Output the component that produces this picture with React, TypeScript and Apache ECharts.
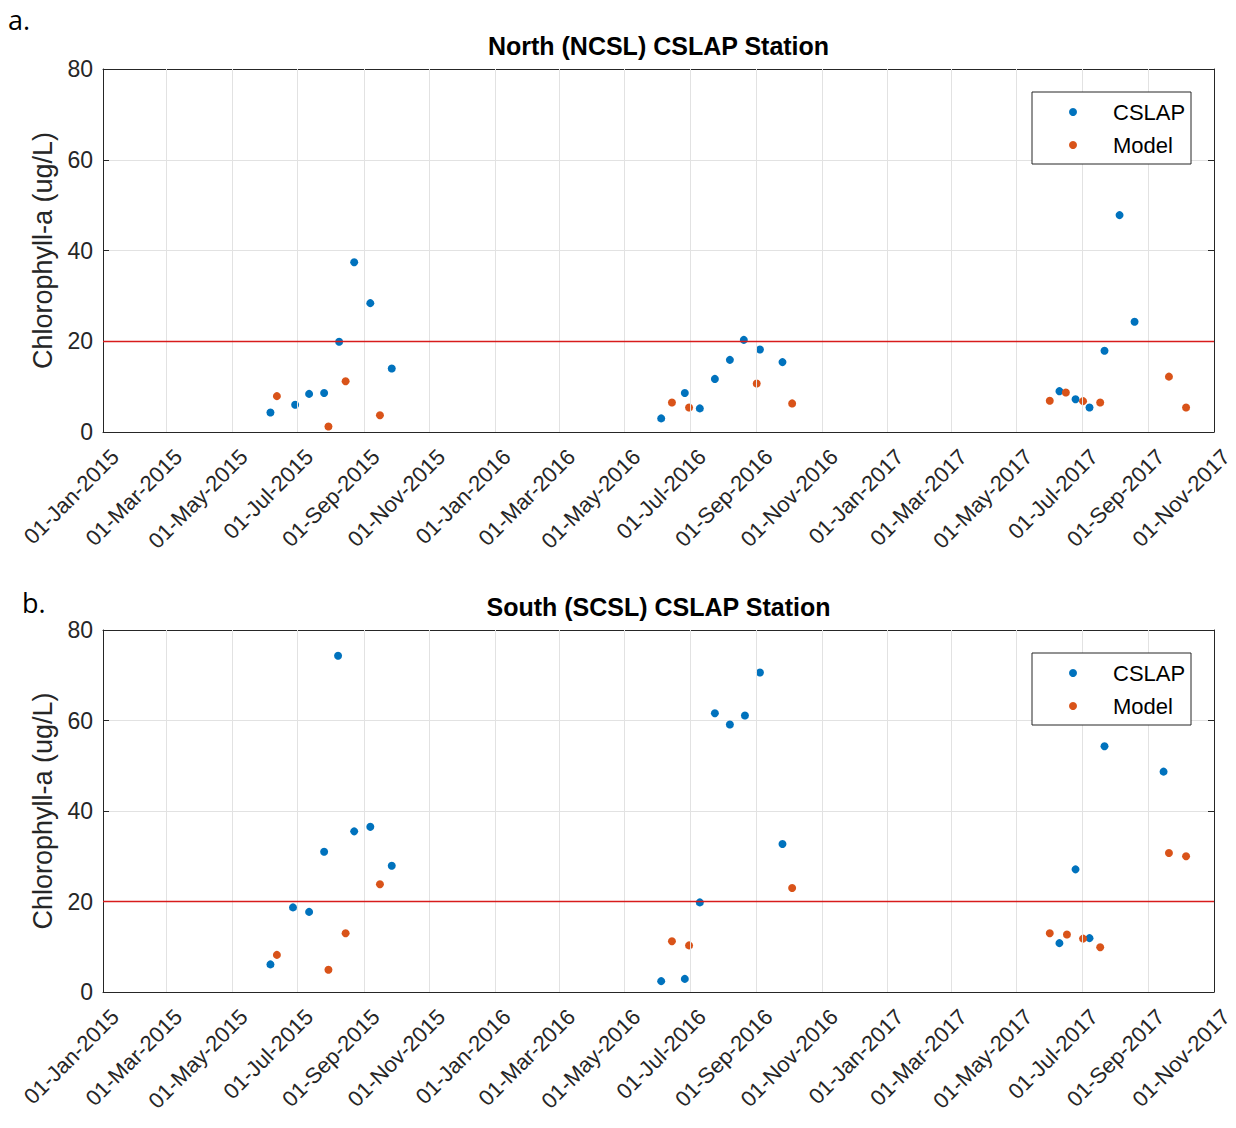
import React, { useEffect, useRef } from "react";
import * as echarts from "echarts";

const tickDates = [
  "2015-01-01", "2015-03-01", "2015-05-01", "2015-07-01", "2015-09-01", "2015-11-01",
  "2016-01-01", "2016-03-01", "2016-05-01", "2016-07-01", "2016-09-01", "2016-11-01",
  "2017-01-01", "2017-03-01", "2017-05-01", "2017-07-01", "2017-09-01", "2017-11-01",
];
const yTicks = [0, 20, 40, 60, 80];
const threshold = 20;

const northCslapDates = [
  "2015-06-06", "2015-06-29", "2015-07-12", "2015-07-26", "2015-08-09", "2015-08-23", "2015-09-07", "2015-09-27",
  "2016-06-04", "2016-06-26", "2016-07-10", "2016-07-24", "2016-08-07", "2016-08-20", "2016-09-04", "2016-09-25",
  "2017-06-10", "2017-06-25", "2017-07-08", "2017-07-22", "2017-08-05", "2017-08-19",
];
const northCslapValues = [
  4.3, 6.0, 8.4, 8.6, 19.9, 37.4, 28.4, 14.0,
  3.0, 8.6, 5.2, 11.7, 15.9, 20.3, 18.2, 15.4,
  9.0, 7.2, 5.4, 17.9, 47.8, 24.3,
];
const northModelDates = [
  "2015-06-12", "2015-07-30", "2015-08-15", "2015-09-16",
  "2016-06-14", "2016-06-30", "2016-09-01", "2016-10-04",
  "2017-06-01", "2017-06-16", "2017-07-02", "2017-07-18", "2017-09-20", "2017-10-06",
];
const northModelValues = [
  7.9, 1.2, 11.2, 3.7,
  6.5, 5.4, 10.7, 6.3,
  6.9, 8.7, 6.8, 6.5, 12.2, 5.4,
];

const southCslapDates = [
  "2015-06-06", "2015-06-27", "2015-07-12", "2015-07-26", "2015-08-08", "2015-08-23", "2015-09-07", "2015-09-27",
  "2016-06-04", "2016-06-26", "2016-07-10", "2016-07-24", "2016-08-07", "2016-08-21", "2016-09-04", "2016-09-25",
  "2017-06-10", "2017-06-25", "2017-07-08", "2017-07-22", "2017-09-15",
];
const southCslapValues = [
  6.1, 18.7, 17.7, 31.0, 74.3, 35.5, 36.5, 27.9,
  2.4, 2.9, 19.8, 61.6, 59.1, 61.1, 70.6, 32.7,
  10.8, 27.1, 11.9, 54.3, 48.7,
];
const southModelDates = [
  "2015-06-12", "2015-07-30", "2015-08-15", "2015-09-16",
  "2016-06-14", "2016-06-30", "2016-10-04",
  "2017-06-01", "2017-06-17", "2017-07-02", "2017-07-18", "2017-09-20", "2017-10-06",
];
const southModelValues = [
  8.2, 4.9, 13.0, 23.8,
  11.2, 10.3, 23.0,
  13.0, 12.7, 11.8, 9.9, 30.7, 30.0,
];

const panelTitles = ["North (NCSL) CSLAP Station", "South (SCSL) CSLAP Station"];
const panelLetters = ["a.", "b."];
const yAxisName = "Chlorophyll-a (ug/L)";
const seriesNames = ["CSLAP", "Model"];

const MONTHS = ["Jan", "Feb", "Mar", "Apr", "May", "Jun", "Jul", "Aug", "Sep", "Oct", "Nov", "Dec"];
const toMs = (s: string) => {
  const [y, m, d] = s.split("-").map(Number);
  return Date.UTC(y, m - 1, d);
};
const fmtDate = (v: number) => {
  const dt = new Date(v);
  return `${String(dt.getUTCDate()).padStart(2, "0")}-${MONTHS[dt.getUTCMonth()]}-${dt.getUTCFullYear()}`;
};
const zip = (dates: string[], vals: number[]) => dates.map((d, i) => [toMs(d), vals[i]]);

const FONT = "Arial, Liberation Sans, Helvetica, sans-serif";
const AXIS_COLOR = "#262626";
const GRID_COLOR = "#e2e2e2";
const BLUE = "#0072BD";
const ORANGE = "#D95319";
const RED = "#d81c1c";

export default function App() {
  const ref = useRef<HTMLDivElement>(null);
  useEffect(() => {
    if (!ref.current) return;
    const chart = echarts.init(ref.current, null, { renderer: "svg" });
    const tickMs = tickDates.map(toMs);
    const xMin = tickMs[0];
    const xMax = tickMs[tickMs.length - 1];
    const innerTicks = tickMs.slice(1, -1);
    const grids = [
      { left: 103, top: 69, width: 1111, height: 363 },
      { left: 103, top: 630, width: 1111, height: 362 },
    ];
    const legendBoxes = [
      { x: 1032, y: 92, w: 159, h: 72 },
      { x: 1032, y: 653, w: 159, h: 72 },
    ];
    const titleYs = [46, 607];
    const panelData = [
      [zip(northCslapDates, northCslapValues), zip(northModelDates, northModelValues)],
      [zip(southCslapDates, southCslapValues), zip(southModelDates, southModelValues)],
    ];

    const xAxes: any[] = [];
    const yAxes: any[] = [];
    const series: any[] = [];
    grids.forEach((_, gi) => {
      xAxes.push({
        type: "value",
        gridIndex: gi,
        position: "bottom",
        min: xMin,
        max: xMax,
        axisLine: { show: true, onZero: false, lineStyle: { color: AXIS_COLOR, width: 1 } },
        axisTick: { show: true, inside: true, length: 6, customValues: tickMs, lineStyle: { color: AXIS_COLOR } },
        axisLabel: {
          customValues: tickMs,
          formatter: (v: number) => fmtDate(v),
          rotate: 45,
          fontSize: 22,
          color: AXIS_COLOR,
          fontFamily: FONT,
          margin: 33,
          padding: [0, -17, 0, 0],
        },
        splitLine: { show: false },
      });
      xAxes.push({
        type: "value",
        gridIndex: gi,
        position: "top",
        min: xMin,
        max: xMax,
        axisLine: { show: true, onZero: false, lineStyle: { color: AXIS_COLOR, width: 1 } },
        axisTick: { show: true, inside: true, length: 6, customValues: tickMs, lineStyle: { color: AXIS_COLOR } },
        axisLabel: { show: false },
        splitLine: { show: false },
      });
      yAxes.push({
        type: "value",
        gridIndex: gi,
        position: "left",
        min: yTicks[0],
        max: yTicks[yTicks.length - 1],
        interval: 20,
        name: yAxisName,
        nameLocation: "middle",
        nameGap: 46,
        nameTextStyle: { fontSize: 27, color: AXIS_COLOR, fontFamily: FONT },
        axisLine: { show: true, onZero: false, lineStyle: { color: AXIS_COLOR, width: 1 } },
        axisTick: { show: true, inside: true, length: 6, lineStyle: { color: AXIS_COLOR } },
        axisLabel: { fontSize: 23, color: AXIS_COLOR, fontFamily: FONT, margin: 10 },
        splitLine: { show: true, lineStyle: { color: GRID_COLOR, width: 1 } },
      });
      yAxes.push({
        type: "value",
        gridIndex: gi,
        position: "right",
        min: yTicks[0],
        max: yTicks[yTicks.length - 1],
        interval: 20,
        axisLine: { show: true, onZero: false, lineStyle: { color: AXIS_COLOR, width: 1 } },
        axisTick: { show: true, inside: true, length: 6, lineStyle: { color: AXIS_COLOR } },
        axisLabel: { show: false },
        splitLine: { show: false },
      });
      const xi = gi * 2;
      const yi = gi * 2;
      series.push({
        type: "scatter",
        xAxisIndex: xi,
        yAxisIndex: yi,
        data: [],
        silent: true,
        z: 1,
        markLine: {
          silent: true,
          symbol: ["none", "none"],
          label: { show: false },
          animation: false,
          lineStyle: { color: GRID_COLOR, type: "solid", width: 1 },
          data: [
            ...innerTicks.map((v) => ({ xAxis: v })),
            { yAxis: threshold, lineStyle: { color: RED, type: "solid", width: 1.3 } },
          ],
        },
      });
      series.push({
        type: "scatter",
        name: seriesNames[0],
        xAxisIndex: xi,
        yAxisIndex: yi,
        data: panelData[gi][0],
        symbol: "circle",
        symbolSize: 8,
        itemStyle: { color: BLUE, opacity: 1 },
        z: 3,
      });
      series.push({
        type: "scatter",
        name: seriesNames[1],
        xAxisIndex: xi,
        yAxisIndex: yi,
        data: panelData[gi][1],
        symbol: "circle",
        symbolSize: 8,
        itemStyle: { color: ORANGE, opacity: 1 },
        z: 3,
      });
    });

    const graphics: any[] = [];
    grids.forEach((g, gi) => {
      graphics.push({
        type: "text",
        x: g.left + g.width / 2,
        y: titleYs[gi],
        style: {
          text: panelTitles[gi],
          fill: "#000",
          fontSize: 25,
          fontWeight: "bold",
          fontFamily: FONT,
          align: "center",
          verticalAlign: "middle",
        },
      });
    });
    legendBoxes.forEach((b) => {
      graphics.push({
        type: "rect",
        shape: { x: b.x, y: b.y, width: b.w, height: b.h },
        style: { fill: "#fff", stroke: AXIS_COLOR, lineWidth: 1 },
        z: 50,
        silent: true,
      });
    });
    graphics.push({
      type: "text",
      x: 8,
      y: 19,
      style: { text: panelLetters[0], fill: "#000", fontSize: 27, fontFamily: "Open Sans, sans-serif", align: "left", verticalAlign: "middle" },
    });
    graphics.push({
      type: "text",
      x: 22,
      y: 602,
      style: { text: panelLetters[1], fill: "#000", fontSize: 27, fontFamily: "Open Sans, sans-serif", align: "left", verticalAlign: "middle" },
    });

    chart.setOption({
      animation: false,
      backgroundColor: "#fff",
      grid: grids.map((g) => ({ ...g, containLabel: false, show: false })),
      xAxis: xAxes,
      yAxis: yAxes,
      legend: legendBoxes.map((b) => ({
        orient: "vertical",
        left: b.x + 37,
        top: b.y + 8,
        padding: 0,
        itemWidth: 8,
        itemHeight: 8,
        itemGap: 9,
        icon: "circle",
        selectedMode: false,
        z: 60,
        textStyle: { fontSize: 22, lineHeight: 24, color: "#000", fontFamily: FONT, padding: [0, 0, 0, 31] },
        data: seriesNames,
      })),
      graphic: graphics,
      series,
    });
    return () => chart.dispose();
  }, []);
  return (
    <div
      ref={ref}
      style={{ position: "absolute", left: 0, top: 0, width: 1236, height: 1128, background: "#fff" }}
    />
  );
}
